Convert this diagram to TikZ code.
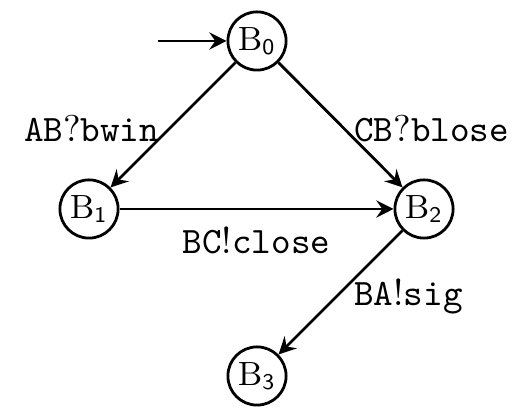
\documentclass[tikz,border=0pt]{standalone}
\usetikzlibrary{arrows.meta}
\newcommand{\myTT}[1]{{\ttfamily #1}}
\newcommand{\myRM}[1]{{\rmfamily #1}}
\begin{document}
\begin{tikzpicture}[x=0.268pt,y=-0.268pt,
  state/.style={draw,circle,line width=0.75pt,minimum size=15.6pt,inner sep=0pt,font=\small},
  trans/.style={-{Stealth[length=4.6pt,width=4.6pt,inset=1.6pt]},line width=0.75pt},
  lbl/.style={}]
\useasboundingbox (0,0) rectangle (517,409);
\node[state] (b0) at (257,41) {B$_{\mathsf{0}}$};
\node[state] (b1) at (89,209) {B$_{\mathsf{1}}$};
\node[state] (b2) at (424,209) {B$_{\mathsf{2}}$};
\node[state] (b3) at (257,376) {B$_{\mathsf{3}}$};
\coordinate (start) at (158,41);
\draw[trans] (start) -- (b0);
\draw[trans] (b0) -- node[lbl,pos=0.5,anchor=east,yshift=-1pt]{\myTT{AB}\myRM{?}\myTT{bwin}} (b1);
\draw[trans] (b0) -- node[lbl,pos=0.5,anchor=west,yshift=-1pt]{\myTT{CB}\myRM{?}\myTT{blose}} (b2);
\draw[trans] (b1) -- node[lbl,pos=0.5,anchor=north,yshift=-1pt]{\myTT{BC}\myRM{!}\myTT{close}} (b2);
\draw[trans] (b2) -- node[lbl,pos=0.5,anchor=west,yshift=-1pt]{\myTT{BA}\myRM{!}\myTT{sig}} (b3);
\end{tikzpicture}
\end{document}
